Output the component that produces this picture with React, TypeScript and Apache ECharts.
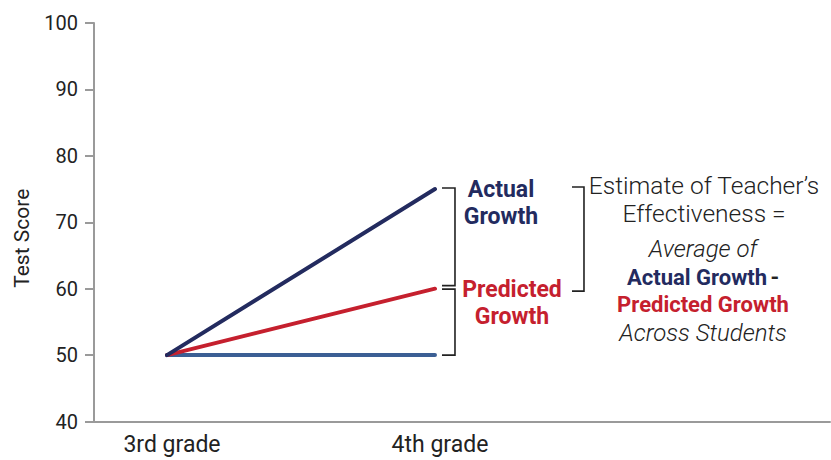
import React, { useEffect, useRef } from "react";
import * as echarts from "echarts";

const gradeLabels = ["3rd grade", "4th grade"];
const gradePositions = [1, 2];
const baselineScores = [50, 50];
const predictedScores = [50, 60];
const actualScores = [50, 75];
// brackets: [x position (grade), top score, bottom score]
const bracketData = [
  [2, 75, 60],
  [2, 60, 50],
  [2, 75, 60],
];
const yTicks = { min: 40, max: 100, interval: 10 };

const NAVY = "#232b5f";
const RED = "#c5202e";
const BLUE = "#3b5f94";
const INK = "#222222";
const FONT = "Roboto, 'DejaVu Sans', sans-serif";

// pixel offsets for bracket drawing [xStart, xEnd, topAdj, bottomAdj]
const bracketGeom = [
  [7, 20, -1, -3],
  [7, 20, 0.5, 0],
  [137, 149, -2, 2.5],
];

export default function App() {
  const ref = useRef<HTMLDivElement>(null);
  useEffect(() => {
    document.body.style.margin = "0";
    if (!ref.current) return;
    const chart = echarts.init(ref.current, null, { renderer: "svg" });
    const pts = (ys: number[]) => gradePositions.map((x, i) => [x, ys[i]]);
    chart.setOption({
      animation: false,
      grid: { left: 94, right: 1, top: 23, bottom: 38.5, containLabel: false },
      xAxis: {
        type: "value",
        min: 0.7276,
        max: 3.474,
        axisLine: { show: true, lineStyle: { color: "#9a9a9a", width: 2 } },
        axisTick: { show: false },
        splitLine: { show: false },
        axisLabel: {
          customValues: gradePositions,
          formatter: (v: number) => {
            const i = gradePositions.indexOf(Math.round(v));
            return i >= 0 ? gradeLabels[i] : "";
          },
          color: INK,
          fontFamily: FONT,
          fontSize: 23,
          margin: 11,
          padding: [0, 0, 0, 10],
        },
      },
      yAxis: {
        type: "value",
        min: yTicks.min,
        max: yTicks.max,
        interval: yTicks.interval,
        name: "Test Score",
        nameLocation: "middle",
        nameRotate: 90,
        nameGap: 62,
        nameTextStyle: { color: INK, fontFamily: FONT, fontSize: 21, padding: [0, 32, 0, 0] },
        axisLine: { show: true, lineStyle: { color: "#9a9a9a", width: 2 } },
        axisTick: { show: true, length: 9, lineStyle: { color: "#9a9a9a", width: 2 } },
        splitLine: { show: false },
        axisLabel: { color: INK, fontFamily: FONT, fontSize: 20, margin: 16 },
      },
      series: [
        {
          type: "line",
          data: pts(baselineScores),
          showSymbol: false,
          lineStyle: { color: BLUE, width: 4, cap: "round" },
          z: 2,
        },
        {
          type: "line",
          data: pts(predictedScores),
          showSymbol: false,
          lineStyle: { color: RED, width: 4, cap: "round" },
          z: 3,
        },
        {
          type: "line",
          data: pts(actualScores),
          showSymbol: false,
          lineStyle: { color: NAVY, width: 4, cap: "round" },
          z: 4,
        },
        {
          type: "custom",
          clip: false,
          data: bracketData,
          encode: { x: 0, y: [1, 2] },
          renderItem: (params: any, api: any) => {
            const g = bracketGeom[params.dataIndex];
            const top = api.coord([api.value(0), api.value(1)]);
            const bot = api.coord([api.value(0), api.value(2)]);
            const x0 = top[0] + g[0];
            const x1 = top[0] + g[1];
            const yt = top[1] + g[2];
            const yb = bot[1] + g[3];
            return {
              type: "polyline",
              shape: { points: [[x0, yt], [x1, yt], [x1, yb], [x0, yb]] },
              style: { stroke: INK, lineWidth: 1.6, fill: null },
            };
          },
        },
      ],
      graphic: [
        {
          type: "text",
          x: 501,
          y: 203,
          style: {
            text: "Actual\nGrowth",
            fill: NAVY,
            font: `bold 23px ${FONT}`,
            align: "center",
            verticalAlign: "middle",
            lineHeight: 27,
          },
        },
        {
          type: "text",
          x: 512,
          y: 303,
          style: {
            text: "Predicted\nGrowth",
            fill: RED,
            font: `bold 23px ${FONT}`,
            align: "center",
            verticalAlign: "middle",
            lineHeight: 27,
          },
        },
        {
          type: "text",
          x: 704,
          y: 199,
          style: {
            text: "Estimate of Teacher\u2019s\nEffectiveness =",
            fill: INK,
            font: `300 24.5px ${FONT}`,
            align: "center",
            verticalAlign: "middle",
            lineHeight: 28,
          },
        },
        {
          type: "text",
          x: 703,
          y: 249,
          style: {
            text: "Average of",
            fill: INK,
            font: `italic 300 24px ${FONT}`,
            align: "center",
            verticalAlign: "middle",
          },
        },
        {
          type: "text",
          x: 703,
          y: 277,
          style: {
            text: "{a|Actual Growth} {d|-}",
            align: "center",
            verticalAlign: "middle",
            rich: {
              a: { fill: NAVY, font: `bold 22px ${FONT}` },
              d: { fill: INK, font: `bold 22px ${FONT}` },
            },
          },
        },
        {
          type: "text",
          x: 703,
          y: 304,
          style: {
            text: "Predicted Growth",
            fill: RED,
            font: `bold 22px ${FONT}`,
            align: "center",
            verticalAlign: "middle",
          },
        },
        {
          type: "text",
          x: 703,
          y: 333,
          style: {
            text: "Across Students",
            fill: INK,
            font: `italic 300 24px ${FONT}`,
            align: "center",
            verticalAlign: "middle",
          },
        },
      ],
    });
    return () => chart.dispose();
  }, []);
  return <div ref={ref} style={{ width: 831, height: 460 }} />;
}
